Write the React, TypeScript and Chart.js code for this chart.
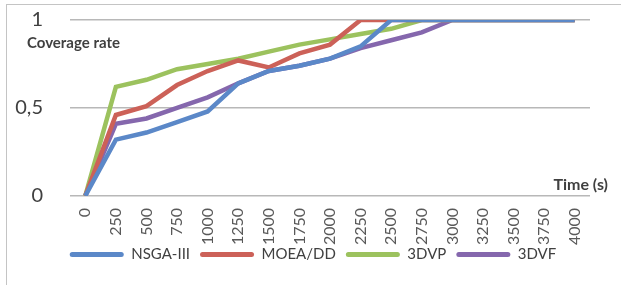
import React, { useEffect, useRef } from "react";
import { Chart, registerables } from "chart.js";

Chart.register(...registerables);

const categories = ["0", "250", "500", "750", "1000", "1250", "1500", "1750", "2000", "2250", "2500", "2750", "3000", "3250", "3500", "3750", "4000"];
const nsga3 = [0, 0.32, 0.36, 0.42, 0.48, 0.64, 0.71, 0.74, 0.78, 0.85, 1, 1, 1, 1, 1, 1, 1];
const moeadd = [0, 0.46, 0.51, 0.63, 0.71, 0.77, 0.73, 0.81, 0.86, 1, 1, 1, 1, 1, 1, 1, 1];
const dvp = [0, 0.62, 0.66, 0.72, 0.75, 0.78, 0.82, 0.86, 0.89, 0.92, 0.95, 1, 1, 1, 1, 1, 1];
const dvf = [0, 0.41, 0.44, 0.5, 0.56, 0.64, 0.71, 0.74, 0.78, 0.84, 0.885, 0.93, 1, 1, 1, 1, 1];
const seriesNames = ["NSGA-III", "MOEA/DD", "3DVP", "3DVF"];
const seriesColors = ["#5b88c8", "#cc6158", "#9cc25e", "#8567ad"];
const yTitle = "Coverage rate";
const xTitle = "Time (s)";

const FONT = "Lato, 'Open Sans', sans-serif";

export default function App() {
  const ref = useRef<HTMLCanvasElement | null>(null);
  useEffect(() => {
    if (!ref.current) return;
    const values = [nsga3, moeadd, dvp, dvf];
    const titlesPlugin = {
      id: "titles",
      afterLayout(chart: any) {
        const lg = chart.legend;
        if (lg) {
          lg.top -= 20;
          lg.bottom -= 20;
          lg.left += 18;
          lg.right += 18;
        }
      },
      afterDraw(chart: any) {
        const ctx = chart.ctx;
        ctx.save();
        ctx.fillStyle = "#404040";
        ctx.textBaseline = "middle";
        ctx.textAlign = "left";
        ctx.font = `bold 15px ${FONT}`;
        ctx.fillText(yTitle, 27, 43);
        ctx.textAlign = "right";
        ctx.font = `bold 16px ${FONT}`;
        ctx.fillText(xTitle, 608, 185);
        ctx.restore();
      },
    };
    const chart = new Chart(ref.current, {
      type: "line",
      data: {
        labels: categories,
        datasets: values.map((v, i) => ({
          label: seriesNames[i],
          data: v,
          borderColor: seriesColors[i],
          backgroundColor: seriesColors[i],
          borderWidth: 4.5,
          pointRadius: 0,
          tension: 0,
          fill: false,
        })),
      },
      options: {
        animation: false,
        responsive: false,
        maintainAspectRatio: false,
        layout: { padding: { top: 20, right: 31, bottom: 3, left: 0 } },
        plugins: {
          legend: {
            position: "bottom",
            maxHeight: 25,
            labels: {
              boxWidth: 54,
              boxHeight: 5,
              useBorderRadius: true,
              borderRadius: 2.5,
              padding: 10,
              color: "#404040",
              font: { family: FONT, size: 15 },
              generateLabels: (chart: any) => {
                const items = Chart.defaults.plugins.legend.labels.generateLabels(chart);
                return items.map((it: any) => ({ ...it, lineWidth: 0, strokeStyle: "rgba(0,0,0,0)" }));
              },
            },
          },
          tooltip: { enabled: false },
        },
        scales: {
          x: {
            type: "category",
            offset: true,
            grid: { display: false, drawTicks: false },
            border: { display: false },
            ticks: {
              minRotation: 90,
              maxRotation: 90,
              autoSkip: false,
              padding: 12,
              color: "#595959",
              font: { family: FONT, size: 16 },
            },
          },
          y: {
            min: 0,
            max: 1,
            afterFit: (s: any) => {
              s.width = 70;
              s.paddingTop = 0;
              s.paddingBottom = 0;
            },
            grid: { color: "#b8b8b8", lineWidth: 1.5, drawTicks: false },
            border: { display: false },
            ticks: {
              stepSize: 0.5,
              padding: 27,
              color: "#404040",
              font: { family: FONT, size: 20 },
              callback: (v: any) => String(v).replace(".", ","),
            },
          },
        },
      },
      plugins: [titlesPlugin],
    });
    return () => chart.destroy();
  }, []);
  return (
    <div style={{ position: "fixed", left: 0, top: 0, width: 621, height: 285, background: "#fff" }}>
      <canvas ref={ref} width={621} height={285} style={{ position: "absolute", left: 0, top: 0 }} />
      <div
        style={{
          position: "absolute",
          left: 6,
          top: 4,
          width: 615,
          height: 281,
          borderTop: "1.5px solid #c4c4c4",
          borderLeft: "1.5px solid #c4c4c4",
          boxSizing: "border-box",
          pointerEvents: "none",
        }}
      />
    </div>
  );
}
